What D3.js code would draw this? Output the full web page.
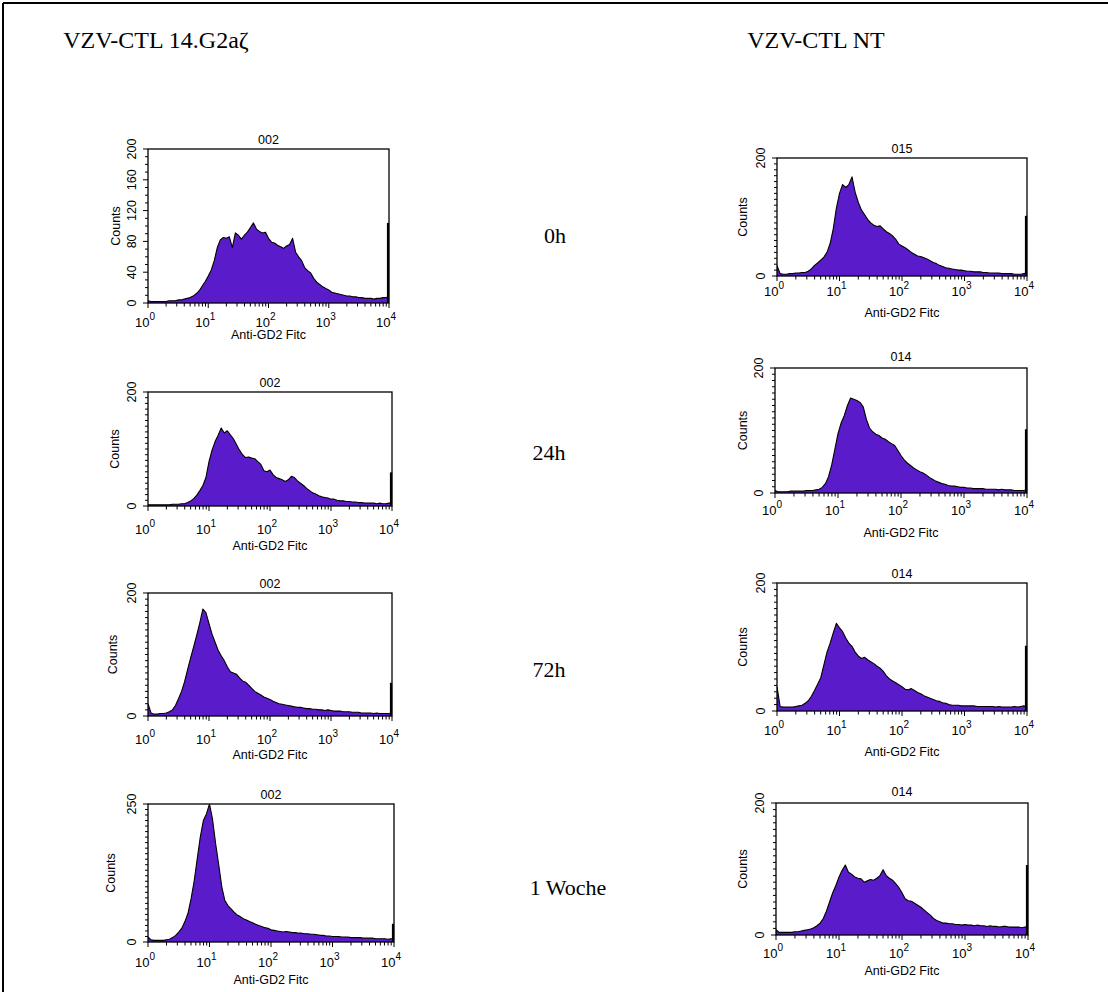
<!DOCTYPE html>
<html>
<head>
<meta charset="utf-8">
<script src="https://cdn.jsdelivr.net/npm/d3@7"></script>
<style>
html,body{margin:0;padding:0;background:#fff;}
svg{display:block;}
</style>
</head>
<body>
<svg id="chart" width="1108" height="992"></svg>
<script>
// ---------- DATA ----------
const logChannels = [0,0.05,0.1,0.15,0.2,0.25,0.3,0.35,0.4,0.45,0.5,0.55,0.6,0.65,0.7,0.75,0.8,0.85,0.9,0.95,
  1,1.05,1.1,1.15,1.2,1.25,1.3,1.35,1.4,1.45,1.5,1.55,1.6,1.65,1.7,1.75,1.8,1.85,1.9,1.95,
  2,2.05,2.1,2.15,2.2,2.25,2.3,2.35,2.4,2.45,2.5,2.55,2.6,2.65,2.7,2.75,2.8,2.85,2.9,2.95,
  3,3.05,3.1,3.15,3.2,3.25,3.3,3.35,3.4,3.45,3.5,3.55,3.6,3.65,3.7,3.75,3.8,3.85,3.9,3.95,4];

const groupTitles = ["VZV-CTL 14.G2aζ", "VZV-CTL NT"];
const timeLabels = ["0h", "24h", "72h", "1 Woche"];
const panelTitles = ["002", "002", "002", "002", "015", "014", "014", "014"];
const yMaxValues = [200, 200, 200, 250, 200, 200, 200, 200];
const yLabelTicks = [[0,40,80,120,160,200],[0,200],[0,200],[0,250],[0,200],[0,200],[0,200],[0,200]];
const xDecades = [0, 1, 2, 3, 4];
const xAxisTitle = "Anti-GD2 Fitc";
const yAxisTitle = "Counts";

const countsG2a0h = [3,2,2,2,2,2,2,3,3,3,4,4,5,6,7,9,12,16,22,28,
  35,43,55,72,82,85,84,86,72,91,88,83,88,92,98,104,96,93,91,92,
  84,79,78,75,73,71,74,76,84,66,60,55,46,42,39,32,27,24,21,19,
  17,14,13,12,11,10,9,9,8,8,7,7,6,6,6,5,6,6,7,7,8];
const countsG2a24h = [2,2,2,2,2,2,2,2,3,3,3,4,4,6,9,13,19,27,36,50,
  78,98,113,124,137,128,132,125,118,108,98,90,85,86,84,83,78,73,62,60,
  63,55,50,48,46,43,46,52,50,44,40,36,31,27,23,21,18,16,15,14,
  12,12,10,9,9,8,8,7,7,6,6,5,5,5,5,4,5,4,4,5,5];
const countsG2a72h = [20,5,3,3,4,4,5,7,10,17,28,40,56,76,95,113,132,152,174,168,
  150,133,120,107,98,90,80,72,70,68,62,57,55,50,45,40,37,34,31,29,
  27,24,22,20,19,18,17,16,15,14,14,13,12,12,11,11,10,10,9,10,
  9,8,8,8,7,7,7,6,6,6,5,5,5,5,4,5,4,4,4,4,5];
const countsG2a1w = [9,4,3,3,3,3,4,5,8,12,18,25,37,52,78,110,150,190,220,232,
  250,222,178,140,100,75,66,60,54,49,46,42,40,37,35,32,30,28,26,25,
  22,21,20,19,18,19,18,17,17,16,16,15,15,14,14,13,12,12,11,11,
  10,10,10,9,9,9,8,8,8,8,7,7,7,7,6,6,6,6,5,6,6];
const countsNT0h = [18,4,3,3,4,4,5,5,6,6,8,12,18,22,27,32,40,55,80,115,
  140,155,150,155,168,142,125,112,104,96,90,86,84,85,80,75,72,68,62,54,
  51,48,44,40,37,34,33,31,29,26,23,21,18,16,14,13,12,11,10,10,
  9,8,8,7,7,7,6,6,5,5,5,5,4,4,4,4,3,3,3,4,5];
const countsNT24h = [4,2,2,2,2,3,3,3,3,3,4,4,4,5,6,9,15,26,45,70,
  95,112,124,140,152,150,148,145,138,118,104,98,94,92,88,86,82,79,76,68,
  60,53,48,44,40,37,34,32,29,25,22,19,17,15,14,12,11,11,10,9,
  9,8,8,7,7,7,7,6,6,6,6,5,6,5,5,5,4,4,4,4,5];
const countsNT72h = [38,7,6,6,6,6,7,8,9,12,16,23,32,42,52,72,92,106,122,137,
  130,124,114,106,101,92,86,82,84,80,77,74,70,67,62,55,50,47,44,41,
  38,34,33,35,32,29,27,24,22,20,18,16,15,13,12,10,9,9,9,8,
  8,8,8,8,7,7,7,7,7,7,6,7,6,6,6,6,7,6,7,8,6];
const countsNT1w = [8,4,4,4,4,4,5,5,6,7,8,9,11,14,18,25,36,50,64,75,
  88,98,106,95,92,88,86,85,80,82,84,83,86,90,99,90,86,83,78,72,
  64,55,52,51,48,45,42,38,34,30,25,22,20,18,18,17,17,16,16,15,
  16,15,15,14,15,14,14,13,14,13,13,12,13,13,12,12,12,12,11,12,12];
const lastChannelCounts = [104, 59, 54, 33, 102, 102, 102, 106];

const panelSeries = [countsG2a0h, countsG2a24h, countsG2a72h, countsG2a1w,
                     countsNT0h, countsNT24h, countsNT72h, countsNT1w];

// ---------- LAYOUT (pixel geometry only) ----------
const panelBoxes = [
  {l:148, r:389, t:149, b:303, tickY:322, xTitleY:334, titleY:139, countsX:115, yLabX:136},
  {l:148, r:392, t:392, b:506, tickY:529, xTitleY:545, titleY:382, countsX:114, yLabX:136},
  {l:148, r:392, t:593, b:716, tickY:739, xTitleY:754, titleY:583, countsX:112, yLabX:136},
  {l:148, r:394, t:804, b:942, tickY:962, xTitleY:979, titleY:794, countsX:110, yLabX:136},
  {l:777, r:1027, t:158, b:276, tickY:291, xTitleY:312, titleY:148, countsX:742, yLabX:765},
  {l:775, r:1027, t:368, b:493, tickY:510, xTitleY:532, titleY:356, countsX:742, yLabX:763},
  {l:777, r:1027, t:583, b:711, tickY:730, xTitleY:751, titleY:573, countsX:742, yLabX:765},
  {l:776, r:1028, t:803, b:935, tickY:953, xTitleY:970, titleY:791, countsX:742, yLabX:764}
];
const fillColor = "#5a1ccb";
const sansFont = "'Liberation Sans', Arial, sans-serif";
const serifFont = "'Liberation Serif', 'Times New Roman', serif";

const svg = d3.select("#chart");

// outer frame (top and left edges visible)
svg.append("line").attr("x1",3).attr("y1",3).attr("x2",1108).attr("y2",3)
  .attr("stroke","#000").attr("stroke-width",2);
svg.append("line").attr("x1",3).attr("y1",3).attr("x2",3).attr("y2",992)
  .attr("stroke","#000").attr("stroke-width",2);

// column headers
const headerX = [156, 816];
groupTitles.forEach((t,i)=>{
  svg.append("text").attr("x",headerX[i]).attr("y",48)
    .attr("text-anchor","middle").attr("font-family",serifFont)
    .attr("font-size",24).attr("fill","#000").text(t);
});

// time labels
const timeLabelPos = [{x:555,y:243},{x:549,y:460},{x:549,y:677},{x:568,y:895}];
timeLabels.forEach((t,i)=>{
  svg.append("text").attr("x",timeLabelPos[i].x).attr("y",timeLabelPos[i].y)
    .attr("text-anchor","middle").attr("font-family",serifFont)
    .attr("font-size",22).attr("fill","#000").text(t);
});

panelSeries.forEach((series, pi) => {
  const box = panelBoxes[pi];
  const g = svg.append("g");
  const x = d3.scaleLog().domain([1, 10000]).range([box.l, box.r]);
  const y = d3.scaleLinear().domain([0, yMaxValues[pi]]).range([box.b, box.t]);
  const data = logChannels.map((c, i) => ({v: Math.pow(10, c), n: series[i]}));

  const clipId = "clip" + pi;
  g.append("clipPath").attr("id", clipId).append("rect")
    .attr("x", box.l).attr("y", box.t).attr("width", box.r - box.l).attr("height", box.b - box.t);

  const area = d3.area().x(d => x(d.v)).y0(box.b).y1(d => y(d.n)).curve(d3.curveLinear);
  const line = d3.line().x(d => x(d.v)).y(d => y(d.n)).curve(d3.curveLinear);
  const hg = g.append("g").attr("clip-path", `url(#${clipId})`);
  hg.append("path").datum(data).attr("d", area).attr("fill", fillColor);
  hg.append("path").datum(data).attr("d", line).attr("fill", "none")
    .attr("stroke", "#000").attr("stroke-width", 1.1).attr("stroke-linejoin","round");

  // last-channel spike
  g.append("line").attr("x1", x(10000) - 1).attr("x2", x(10000) - 1)
    .attr("y1", box.b).attr("y2", y(lastChannelCounts[pi]))
    .attr("stroke", "#000").attr("stroke-width", 2.2);

  // box
  g.append("rect").attr("x", box.l).attr("y", box.t)
    .attr("width", box.r - box.l).attr("height", box.b - box.t)
    .attr("fill", "none").attr("stroke", "#000").attr("stroke-width", 1.3);

  // x ticks (major decades + minor)
  const xTicks = x.ticks();
  g.selectAll(".xt").data(xTicks).enter().append("line")
    .attr("x1", d => x(d)).attr("x2", d => x(d))
    .attr("y1", box.b).attr("y2", d => box.b + (Math.abs(Math.log10(d) - Math.round(Math.log10(d))) < 1e-9 ? 5 : 3.5))
    .attr("stroke", "#000").attr("stroke-width", 1);

  // x tick labels 10^n
  xDecades.forEach(e => {
    const tx = x(Math.pow(10, e));
    const t = g.append("text").attr("x", tx - 3).attr("y", box.tickY + 5)
      .attr("text-anchor", "middle").attr("font-family", sansFont).attr("font-size", 13)
      .attr("fill", "#000");
    t.append("tspan").text("10");
    t.append("tspan").attr("dy", -7).attr("font-size", 10).text(String(e));
  });

  // x axis title
  g.append("text").attr("x", (box.l + box.r) / 2).attr("y", box.xTitleY + 5)
    .attr("text-anchor", "middle").attr("font-family", sansFont).attr("font-size", 12.5)
    .attr("fill", "#000").text(xAxisTitle);

  // y ticks: minor every 10, labeled ones longer
  const yMinor = d3.range(0, yMaxValues[pi] + 1, 10);
  g.selectAll(".yt").data(yMinor).enter().append("line")
    .attr("x1", box.l).attr("x2", d => box.l - (yLabelTicks[pi].includes(d) ? 5 : 3))
    .attr("y1", d => y(d)).attr("y2", d => y(d))
    .attr("stroke", "#000").attr("stroke-width", 1);

  yLabelTicks[pi].forEach(v => {
    g.append("text").attr("transform", `translate(${box.yLabX},${y(v)}) rotate(-90)`)
      .attr("text-anchor", "middle").attr("font-family", sansFont)
      .attr("font-size", 12.5).attr("fill", "#000").text(v);
  });

  // y axis title
  g.append("text").attr("transform", `translate(${box.countsX + 5},${(box.t + box.b) / 2}) rotate(-90)`)
    .attr("text-anchor", "middle").attr("font-family", sansFont).attr("font-size", 12.5)
    .attr("fill", "#000").text(yAxisTitle);

  // panel title
  g.append("text").attr("x", (box.l + box.r) / 2).attr("y", box.titleY + 5)
    .attr("text-anchor", "middle").attr("font-family", sansFont).attr("font-size", 12.5)
    .attr("fill", "#000").text(panelTitles[pi]);
});
</script>
</body>
</html>
